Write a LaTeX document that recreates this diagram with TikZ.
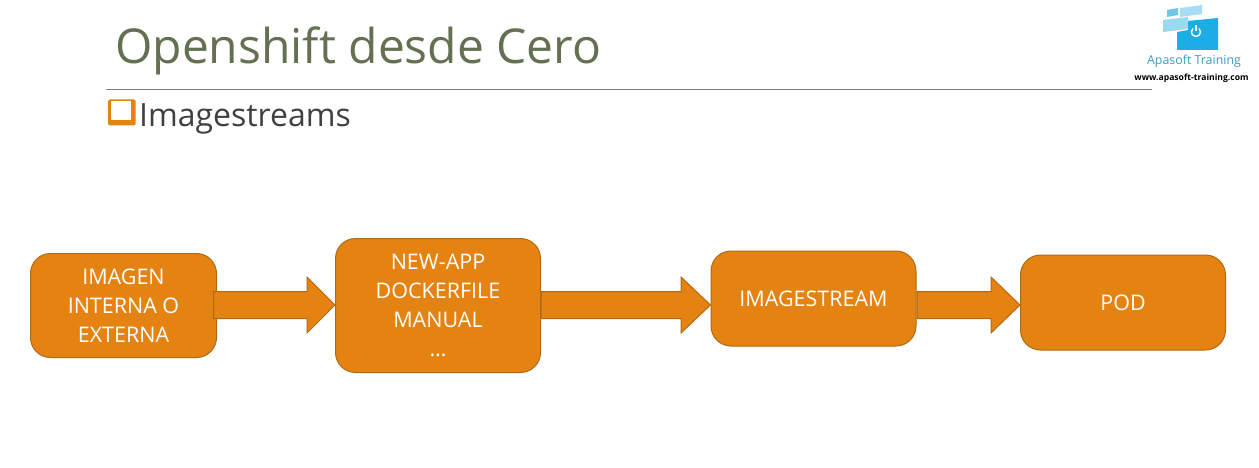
\documentclass[tikz,border=0pt]{standalone}
\usepackage{fontspec}
\setmainfont{Open Sans}
\usetikzlibrary{calc}
\definecolor{boxfill}{HTML}{E48312}
\definecolor{boxedge}{HTML}{B26A12}
\definecolor{titlecol}{HTML}{637052}
\definecolor{bodycol}{HTML}{404040}
\definecolor{rulecol}{HTML}{7F7F7F}
\definecolor{logoblue}{HTML}{1CADE4}
\definecolor{logolight}{HTML}{A5DDF3}
\definecolor{logomid}{HTML}{6CC7EA}
\definecolor{logotext}{HTML}{3E9BC0}
\tikzset{
  x=1pt,y=-1pt,
  flowbox/.style={draw=boxedge,fill=boxfill,line width=1pt,rounded corners=20pt,text=white,
    font=\fontsize{21.5}{29}\selectfont,align=center,inner sep=0pt,anchor=north west},
  blockarrow/.style={draw=boxedge,fill=boxfill,line width=1pt,line join=miter},
}
\newcommand{\blockarrow}[5]{% from node, to node, overlap, head start x, centre y
  \path[blockarrow] let \p1=(#1.east),\p2=(#2.west) in
    (\x1-#3,#5-13.5) -- (#4,#5-13.5) -- (#4,#5-28) -- (\x2,#5) -- (#4,#5+28) -- (#4,#5+13.5) -- (\x1-#3,#5+13.5) -- cycle;
}
\begin{document}
\begin{tikzpicture}
\useasboundingbox[fill=white] (0,0) rectangle (1259,468);
% header
\node[anchor=base west,text=titlecol,font=\fontsize{48}{56}\selectfont,inner sep=0pt] (title) at (115,64) {Openshift desde Cero};
\coordinate (ruleL) at (106,89.5);
\coordinate (ruleR) at (1152,89.5);
\draw[rulecol,line width=0.9pt] (ruleL) -- (ruleR);
% bullet
\path[fill=boxfill,rounded corners=1.5pt] (108,99.5) rectangle (135.5,125.5);
\path[fill=white] (110.5,101.5) rectangle (130.5,120.5);
\node[anchor=base west,text=bodycol,font=\fontsize{32}{40}\selectfont,inner sep=0pt] (sub) at (139,127) {Imagestreams};
% logo
\path[fill=logomid] (1167,10) -- (1178,8) -- (1178,15) -- (1167,17) -- cycle;
\path[fill=logolight] (1180,8) -- (1202,5) -- (1202,14) -- (1180,17) -- cycle;
\path[fill=logoblue] (1177,32) -- (1188,30) -- (1188,21) -- (1218,18) -- (1218,50) -- (1177,50) -- cycle;
\path[fill=logolight!80!logomid] (1163,20) -- (1188,17) -- (1188,29) -- (1163,32) -- cycle;
\draw[white,line width=1.4pt] (1198.9,28.55) arc[start angle=50,delta angle=-280,radius=4.5pt];
\draw[white,line width=1.4pt] (1196,25.5) -- (1196,31);
\node[text=logotext,font=\fontsize{12.4}{15}\selectfont,inner sep=0pt] (brand) at (1194,61) {Apasoft Training};
\node[text=black,font=\bfseries\fontsize{8.6}{10}\selectfont,inner sep=0pt] (url) at (1191.5,78) {www.apasoft-training.com};
% boxes
\node[flowbox,minimum width=186pt,minimum height=104pt] (a) at (30,253) {IMAGEN\\INTERNA O\\EXTERNA};
\node[flowbox,minimum width=205pt,minimum height=134pt] (b) at (335,238) {NEW-APP\\DOCKERFILE\\MANUAL\\…};
\node[flowbox,minimum width=205pt,minimum height=95pt] (c) at (710.5,250.5) {IMAGESTREAM};
\node[flowbox,minimum width=205pt,minimum height=95pt] (d) at (1020,254.5) {POD};
% arrows
\blockarrow{a}{b}{3.5pt}{307}{305}
\blockarrow{b}{c}{0pt}{681}{305}
\blockarrow{c}{d}{-0.5pt}{991}{305}
\end{tikzpicture}
\end{document}
